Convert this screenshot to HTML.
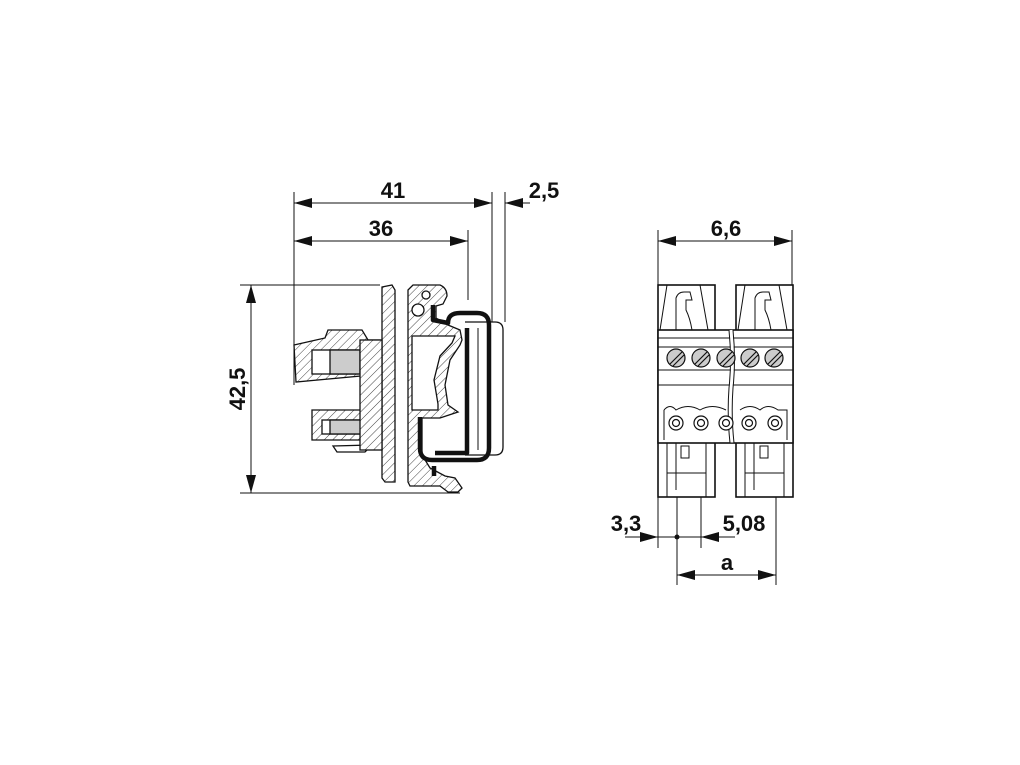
<!DOCTYPE html>
<html><head><meta charset="utf-8"><style>
html,body{margin:0;padding:0;background:#fff;}
svg{display:block;}
text{font-family:"Liberation Sans",Arial,sans-serif;font-weight:bold;font-size:22px;fill:#111;}
</style></head><body>
<svg width="1020" height="765" viewBox="0 0 1020 765" xmlns="http://www.w3.org/2000/svg">
<defs>
<pattern id="h" patternUnits="userSpaceOnUse" width="6" height="6" patternTransform="rotate(45)">
<rect width="6" height="6" fill="#fff"/><line x1="0" y1="0" x2="0" y2="6" stroke="#444" stroke-width="1"/>
</pattern>
<marker id="a" viewBox="0 0 18 10" refX="18" refY="5" markerWidth="18" markerHeight="10" markerUnits="userSpaceOnUse" orient="auto-start-reverse"><path d="M0,0L18,5L0,10z" fill="#111"/></marker>
</defs>
<g stroke="#111" stroke-width="1" fill="none">
<!-- left dimensions -->
<line x1="294" y1="192" x2="294" y2="385"/>
<line x1="492" y1="192" x2="492" y2="322"/>
<line x1="505" y1="192" x2="505" y2="322"/>
<line x1="468" y1="230" x2="468" y2="300"/>
<line x1="294" y1="203" x2="492" y2="203" marker-start="url(#a)" marker-end="url(#a)"/>
<line x1="530" y1="203" x2="505" y2="203" marker-end="url(#a)"/>
<line x1="294" y1="241" x2="468" y2="241" marker-start="url(#a)" marker-end="url(#a)"/>
<line x1="240" y1="285" x2="380" y2="285"/>
<line x1="240" y1="493" x2="460" y2="493"/>
<line x1="251" y1="285" x2="251" y2="493" marker-start="url(#a)" marker-end="url(#a)"/>
</g>
<text x="393" y="198" text-anchor="middle">41</text>
<text x="381" y="236" text-anchor="middle">36</text>
<text x="544" y="198" text-anchor="middle">2,5</text>
<text transform="translate(245,389) rotate(-90)" text-anchor="middle">42,5</text>

<!-- left drawing -->
<g stroke="#111" stroke-width="1.3">
<!-- outer thin rail -->
<path d="M465,322 L495,322 Q503,322 503,330 L503,447 Q503,455 495,455 L465,455" fill="none"/>
<line x1="478" y1="328" x2="478" y2="450" stroke-width="1"/>
<!-- plate -->
<path d="M382,287 L392,285 L395,290 L395,482 L385,482 L382,478 Z" fill="url(#h)"/>
<!-- housing -->
<path d="M408,290 L413,285 L440,285 Q447,288 447,296 L443,304 L436,306 L436,318 L448,325 L460,330 L462,340 L460,345 L450,360 L445,385 L448,405 L458,412 L440,418 L422,418 L422,455 L430,468 L445,476 L455,478 L462,488 L458,492 L448,492 L440,486 L410,486 L408,482 Z" fill="url(#h)"/>
<path d="M412,336 L455,336 L452,343 L440,356 L434,380 L438,404 L438,410 L412,410 Z" fill="#fff"/>
<circle cx="426" cy="295" r="4" fill="#fff"/>
<circle cx="418" cy="310" r="6" fill="#fff"/>
<!-- connector -->
<path d="M294,345 L325,338 L328,330 L362,330 L368,340 L380,340 L380,395 L372,395 L372,375 L296,382 Z" fill="url(#h)"/>
<rect x="312" y="350" width="46" height="24" fill="#fff"/>
<rect x="330" y="350" width="30" height="24" fill="#ccc"/>
<path d="M312,410 L365,410 L375,425 L375,440 L312,440 Z" fill="url(#h)"/>
<rect x="322" y="420" width="44" height="14" fill="#fff"/>
<rect x="330" y="420" width="36" height="14" fill="#ccc"/>
<path d="M333,446 L372,445 L365,452 L337,452 Z" fill="#fff"/>
<rect x="360" y="340" width="22" height="110" fill="url(#h)"/>
</g>
<!-- DIN rail thick -->
<g stroke="#111" stroke-width="4.5" fill="none" stroke-linejoin="round">
<path d="M433,305 L433,320 L448,323 Q448,313 460,313 L477,313 Q489,313 489,325 L489,448 Q489,460 477,460 L432,460 Q420,460 420,448 L420,417"/>
<path d="M467,328 L467,453 L435,453"/>
<path d="M434,466 L434,476"/>
</g>

<!-- right dimensions -->
<g stroke="#111" stroke-width="1" fill="none">
<line x1="658" y1="230" x2="658" y2="285"/>
<line x1="792" y1="230" x2="792" y2="285"/>
<line x1="658" y1="241" x2="792" y2="241" marker-start="url(#a)" marker-end="url(#a)"/>
<line x1="658" y1="497" x2="658" y2="548"/>
<line x1="677" y1="445" x2="677" y2="585"/>
<line x1="701" y1="445" x2="701" y2="548"/>
<line x1="776" y1="445" x2="776" y2="585"/>
<line x1="625" y1="537" x2="658" y2="537" marker-end="url(#a)"/>
<line x1="658" y1="537" x2="701" y2="537"/>
<line x1="735" y1="537" x2="701" y2="537" marker-end="url(#a)"/>
<line x1="677" y1="575" x2="776" y2="575" marker-start="url(#a)" marker-end="url(#a)"/>
</g>
<circle cx="677" cy="537" r="2.5" fill="#111"/>
<text x="726" y="236" text-anchor="middle">6,6</text>
<text x="626" y="531" text-anchor="middle">3,3</text>
<text x="744" y="531" text-anchor="middle">5,08</text>
<text x="727" y="570" text-anchor="middle">a</text>

<!-- right drawing -->
<g stroke="#111" stroke-width="1.6" fill="#fff">
<rect x="658" y="285" width="57" height="212"/>
<rect x="736" y="285" width="57" height="212"/>
<rect x="658" y="330" width="135" height="113"/>
</g>
<g stroke="#111" stroke-width="1" fill="none">
<line x1="658" y1="338" x2="793" y2="338"/>
<line x1="658" y1="347" x2="793" y2="347"/>
<line x1="658" y1="370" x2="793" y2="370"/>
<line x1="658" y1="385" x2="793" y2="385"/>
<path d="M731,330 Q734,360 731,388 Q729,415 732,443" stroke-width="3" stroke="#fff"/>
<path d="M729,330 Q732,360 729,388 Q727,415 730,443"/>
<path d="M733,330 Q736,360 733,388 Q731,415 734,443"/>
<path d="M667,285 L660,330 M676,330 L676,298 Q678,292 684,292 L690,292 L692,300 L686,300 L686,310 Q690,318 692,330 M700,285 L708,330"/>
<path d="M745,285 L738,330 M755,330 L755,298 Q757,292 763,292 L769,292 L771,300 L765,300 L765,310 Q769,318 771,330 M779,285 L787,330"/>
<path d="M664,410 Q670,403 676,410 Q688,403 700,410 Q712,403 726,410 M740,410 Q750,403 760,410 Q768,403 778,410 L787,410 L787,440 M664,410 L664,440"/>
<line x1="658" y1="443" x2="793" y2="443"/>
<path d="M667,443 L667,497 M706,443 L706,497 M667,473 L706,473 M676,443 L676,490 M745,443 L745,497 M784,443 L784,497 M745,473 L784,473 M754,443 L754,490"/>
<rect x="681" y="446" width="8" height="12"/>
<rect x="760" y="446" width="8" height="12"/>
</g>
<g stroke="#111" stroke-width="1.2">
<g fill="#ccc">
<circle cx="676" cy="358" r="9"/><circle cx="701" cy="358" r="9"/><circle cx="726" cy="358" r="9"/>
<circle cx="750" cy="358" r="9"/><circle cx="774" cy="358" r="9"/>
</g>
<path d="M670,364 L682,352 M673,366 L684,355 M695,364 L707,352 M698,366 L709,355 M720,364 L732,352 M723,366 L734,355 M744,364 L756,352 M747,366 L758,355 M768,364 L780,352 M771,366 L782,355" fill="none"/>
<g fill="#fff">
<circle cx="676" cy="423" r="7"/><circle cx="701" cy="423" r="7"/><circle cx="726" cy="423" r="7"/>
<circle cx="749" cy="423" r="7"/><circle cx="775" cy="423" r="7"/>
<circle cx="676" cy="423" r="3.5"/><circle cx="701" cy="423" r="3.5"/><circle cx="726" cy="423" r="3.5"/>
<circle cx="749" cy="423" r="3.5"/><circle cx="775" cy="423" r="3.5"/>
</g>
</g>
</svg>
</body></html>
